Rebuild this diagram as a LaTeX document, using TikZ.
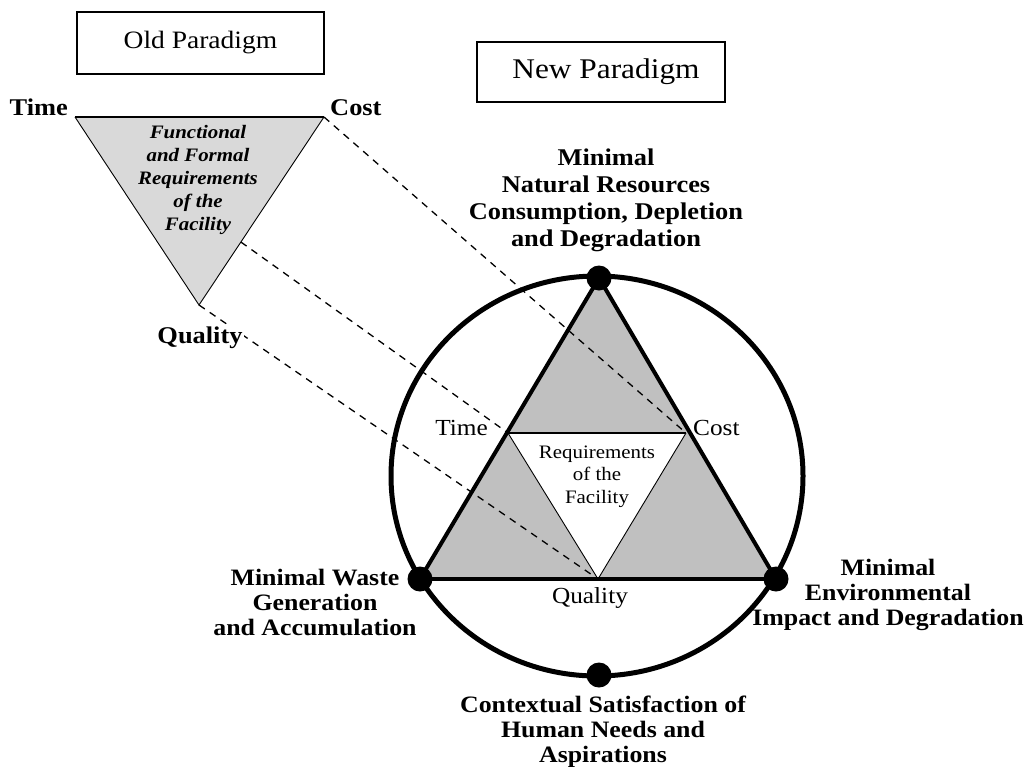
\documentclass[tikz,border=0pt]{standalone}
\usepackage{fontspec}
\setmainfont{Liberation Serif}[FakeStretch=1.1]
\usetikzlibrary{calc}
\definecolor{gA}{HTML}{C0C0C0}
\definecolor{gB}{HTML}{D9D9D9}
\tikzset{
  boxnode/.style={draw, line width=2pt, inner sep=0pt},
  biglbl/.style={font=\bfseries\fontsize{23.5}{25}\selectfont, align=center, anchor=base, inner sep=0pt},
  vlbl/.style={font=\bfseries\fontsize{24}{26}\selectfont, inner sep=0pt},
  nlbl/.style={font=\fontsize{23}{25}\selectfont, inner sep=0pt},
  dashline/.style={line width=1.3pt, dash pattern=on 7pt off 6pt},
  dotnode/.style={circle, fill=black, minimum size=25pt, inner sep=0pt}
}
\begin{document}
\begin{tikzpicture}[x=1pt,y=-1pt]
\useasboundingbox (0,0) rectangle (1024,771);
% coordinates
\coordinate (ot) at (75,117);
\coordinate (oc) at (324,117);
\coordinate (oq) at (199,305);
\coordinate (om) at ($(oc)!0.665!(oq)$);
\coordinate (ctr) at (597,476);
\coordinate (nt) at (599,278);
\coordinate (nl) at (420,579);
\coordinate (nr) at (776,579);
\coordinate (it) at (508,433);
\coordinate (ic) at (686,433);
\coordinate (iq) at (598,579);
\coordinate (nb) at (599,675);

% boxes
\node[boxnode, minimum width=247pt, minimum height=62pt, font=\fontsize{25}{27}\selectfont] (oldbox) at (200.5,43) {Old Paradigm};
\node[boxnode, minimum width=248pt, minimum height=60pt, font=\fontsize{28.5}{30}\selectfont] (newbox) at (601,72) {\hspace*{10pt}New Paradigm};

% old triangle
\fill[gB] (ot) -- (oc) -- (oq) -- cycle;
\draw[line width=0.9pt] (ot) -- (oq) -- (oc);
\draw[line width=2pt] (ot) -- (oc);
\node[font=\bfseries\itshape\fontsize{19}{23}\selectfont, align=center, anchor=base, inner sep=0pt] (otext) at (198,230)
  {Functional\\and Formal\\Requirements\\of the\\Facility};

% circle
\draw[line width=5pt] (ctr) ellipse [x radius=206pt, y radius=200pt];

% new triangle
\fill[gA] (nt) -- (nl) -- (nr) -- cycle;
\fill[white] (it) -- (ic) -- (iq) -- cycle;
\draw[line width=0.9pt] (it) -- (iq) -- (ic);
\draw[line width=2pt] (it) -- (ic);
\draw[line width=4pt, line join=round] (nl) -- (nt) -- (nr);
\draw[line width=4.5pt] (nl) -- (nr);
\node[font=\fontsize{19}{22.5}\selectfont, align=center, anchor=base, inner sep=0pt] (ntext) at (597,503)
  {Requirements\\of the\\Facility};

% dashed connectors
\draw[dashline] (oc) -- (ic);
\draw[dashline] (om) -- (it);
\draw[dashline] (oq) -- (iq);

% dots
\node[dotnode] (dt) at (nt) {};
\node[dotnode] (dl) at (nl) {};
\node[dotnode] (dr) at (nr) {};
\node[dotnode] (db) at (nb) {};

% old vertex labels
\node[vlbl, anchor=base east] (otl) at (68,115) {Time};
\node[vlbl, anchor=base west] (ocl) at (330,115) {Cost};
\node[vlbl, anchor=base, fill=white, inner sep=1pt] (oql) at (200,343) {Quality};

% new vertex labels
\node[nlbl, anchor=base east] (ntl) at (488,435) {Time};
\node[nlbl, anchor=base west] (ncl) at (693,435) {Cost};
\node[nlbl, anchor=base] (nql) at (590,603) {Quality};

% outer labels
\node[biglbl, font=\bfseries\fontsize{24}{27}\selectfont] (ltop) at (606,246)
  {Minimal\\Natural Resources\\Consumption, Depletion\\and Degradation};
\node[biglbl] (lleft) at (315,635) {Minimal Waste\\Generation\\and Accumulation};
\node[biglbl] (lright) at (888,625) {Minimal\\Environmental\\Impact and Degradation};
\node[biglbl] (lbot) at (603,762) {Contextual Satisfaction of\\Human Needs and\\Aspirations};
\end{tikzpicture}
\end{document}
